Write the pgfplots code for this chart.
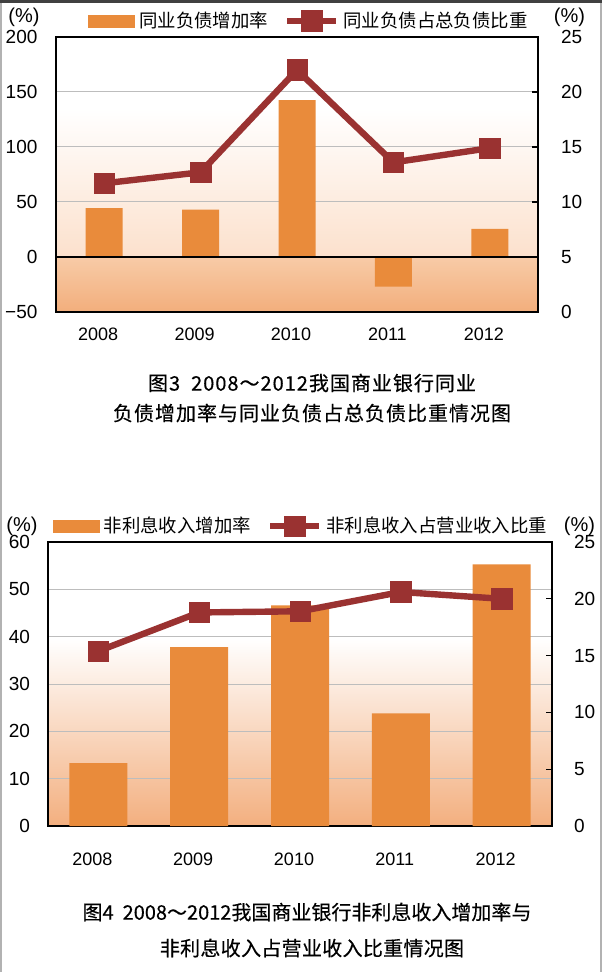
\documentclass[border=0pt]{standalone}
\usepackage{pgfplots}
\pgfplotsset{compat=1.18}
\usepackage{fontspec}
\setmainfont{Liberation Sans}
\newfontfamily\cjk{Noto Sans CJK SC}
\newfontfamily\cjkcapA{Noto Sans CJK SC}[LetterSpace=5, FakeBold=0.4]
\newfontfamily\cjkcapB{Noto Sans CJK SC}[LetterSpace=1.5, FakeBold=0.4]
\newfontfamily\cjkcapC{Noto Sans CJK SC}[LetterSpace=0, FakeBold=0.4]
\definecolor{barc}{HTML}{E98B3B}
\definecolor{linec}{HTML}{9A3231}
\definecolor{bgA}{HTML}{F2AE7C}
\definecolor{bgB}{HTML}{F8CBA7}
\definecolor{bgC}{HTML}{FCE1CD}
\definecolor{bgD}{HTML}{F3AF7F}
\definecolor{gridc}{HTML}{BDBDBD}
\pgfdeclareverticalshading{bgone}{100bp}{color(0bp)=(bgA); color(25bp)=(bgA); color(35bp)=(bgB); color(35.3bp)=(bgC); color(62bp)=(white); color(100bp)=(white)}
\pgfdeclareverticalshading{bgtwo}{100bp}{color(0bp)=(bgD); color(25bp)=(bgD); color(58bp)=(white); color(100bp)=(white)}
\pgfplotsset{
  lineplot/.style={linec, line width=3.2pt, mark=square*, mark size=5.1pt,
    mark options={line width=0.3pt, fill=linec, draw=linec},
    legend image code/.code={\draw[mark repeat=2,mark phase=2,##1] plot coordinates {(0pt,0pt) (12.25pt,0pt) (24.5pt,0pt)};}},
  barleg/.style={legend image code/.code={\fill[barc] (0pt,-3pt) rectangle (23pt,3pt);}},
}
\begin{document}
\begin{tikzpicture}
\useasboundingbox (0,0) rectangle (301pt,-486pt);
% frame
\draw[gray!60, line width=1pt] (0.5pt,0pt) -- (0.5pt,-486pt);
\draw[gray!60, line width=1pt] (300.5pt,0pt) -- (300.5pt,-486pt);
\draw[black!75, line width=1.5pt] (0pt,-0.75pt) -- (301pt,-0.75pt);

% ===== Chart 1 =====
\begin{axis}[
  scale only axis, at={(28pt,-156pt)}, anchor=south west, width=241pt, height=137.5pt,
  xmin=-0.5, xmax=4.5, ymin=-50, ymax=200,
  axis background/.style={shade, shading=bgone},
  xtick={0,1,2,3,4}, xticklabels={2008,2009,2010,2011,2012},
  ytick={-50,0,50,100,150,200}, yticklabels={−50,0,50,100,150,200},
  ymajorgrids, major grid style={gridc, line width=0.5pt},
  tick style={draw=none},
  axis line style={black, line width=0.6pt},
  yticklabel style={font=\fontsize{9.5}{11}\selectfont, xshift=-5.75pt},
  xticklabel style={font=\fontsize{9}{11}\selectfont, yshift=-4.25pt, xshift=-3pt},
  ylabel={(\%)}, every axis y label/.style={at={(rel axis cs:0,1)}, anchor=center, xshift=-16pt, yshift=10pt, font=\fontsize{10}{12}\selectfont},
]
\addplot[ybar, bar width=18.5pt, fill=barc, draw=none] coordinates {(0,44.5) (1,43) (2,142.5) (3,-27) (4,25.5)};
\draw[black, line width=0.6pt] (rel axis cs:0,0.2) -- (rel axis cs:1,0.2);
\end{axis}
\begin{axis}[
  scale only axis, at={(28pt,-156pt)}, anchor=south west, width=241pt, height=137.5pt,
  xmin=-0.5, xmax=4.5, ymin=0, ymax=25,
  axis x line=none, axis y line*=right,
  ytick={0,5,10,15,20,25}, yticklabels={0,5,10,15,20,25},
  tick align=inside, major tick length=3pt, ytick style={black, line width=0.6pt},
  axis line style={-, black, line width=0.6pt},
  yticklabel style={font=\fontsize{9.5}{11}\selectfont, xshift=8pt},
  ylabel={(\%)}, every axis y label/.style={at={(rel axis cs:1,1)}, anchor=center, xshift=15.75pt, yshift=10pt, font=\fontsize{10}{12}\selectfont},
  legend style={at={(0.5,1)}, anchor=center, xshift=6.5pt, yshift=8pt, draw=none, fill=none,
    font=\cjk\fontsize{9.2}{11}\selectfont, /tikz/every even column/.append style={column sep=6pt}},
  legend columns=2, legend cell align=left,
  clip=false,
]
\addlegendimage{barleg}
\addlegendentry{同业负债增加率}
\addplot[lineplot] coordinates {(0,11.7) (1,12.7) (2,22.0) (3,13.6) (4,14.9)};
\addlegendentry{同业负债占总负债比重}
\end{axis}
\node[font=\cjkcapA\fontsize{10}{12}\selectfont] at (156pt,-191.5pt) {图3\ \ 2008～2012我国商业银行同业};
\node[font=\cjkcapA\fontsize{10}{12}\selectfont] at (156pt,-206.5pt) {负债增加率与同业负债占总负债比重情况图};

% ===== Chart 2 =====
\begin{axis}[
  scale only axis, at={(24pt,-413pt)}, anchor=south west, width=252pt, height=142pt,
  xmin=-0.5, xmax=4.5, ymin=0, ymax=60,
  axis background/.style={shade, shading=bgtwo},
  xtick={0,1,2,3,4}, xticklabels={2008,2009,2010,2011,2012},
  ytick={0,10,20,30,40,50,60}, yticklabels={0,10,20,30,40,50,60},
  ymajorgrids, major grid style={gridc, line width=0.5pt},
  tick style={draw=none},
  axis line style={black, line width=0.6pt},
  yticklabel style={font=\fontsize{9.5}{11}\selectfont, xshift=-5.5pt},
  xticklabel style={font=\fontsize{9}{11}\selectfont, yshift=-9.75pt, xshift=-3pt},
  ylabel={(\%)}, every axis y label/.style={at={(rel axis cs:0,1)}, anchor=center, xshift=-13pt, yshift=8pt, font=\fontsize{10}{12}\selectfont},
]
\addplot[ybar, bar width=29pt, fill=barc, draw=none] coordinates {(0,13.3) (1,37.8) (2,46.6) (3,23.8) (4,55.3)};
\end{axis}
\begin{axis}[
  scale only axis, at={(24pt,-413pt)}, anchor=south west, width=252pt, height=142pt,
  xmin=-0.5, xmax=4.5, ymin=0, ymax=25,
  axis x line=none, axis y line*=right,
  ytick={0,5,10,15,20,25}, yticklabels={0,5,10,15,20,25},
  tick align=inside, major tick length=3pt, ytick style={black, line width=0.6pt},
  axis line style={-, black, line width=0.6pt},
  yticklabel style={font=\fontsize{9.5}{11}\selectfont, xshift=7.5pt},
  ylabel={(\%)}, every axis y label/.style={at={(rel axis cs:1,1)}, anchor=center, xshift=13.75pt, yshift=8pt, font=\fontsize{10}{12}\selectfont},
  legend style={at={(0.5,1)}, anchor=center, xshift=1pt, yshift=8pt, draw=none, fill=none,
    font=\cjk\fontsize{9.2}{11}\selectfont, /tikz/every even column/.append style={column sep=6pt}},
  legend columns=2, legend cell align=left,
  clip=false,
]
\addlegendimage{barleg}
\addlegendentry{非利息收入增加率}
\addplot[lineplot] coordinates {(0,15.4) (1,18.8) (2,18.9) (3,20.6) (4,20.0)};
\addlegendentry{非利息收入占营业收入比重}
\end{axis}
\node[font=\cjkcapC\fontsize{10}{12}\selectfont] at (153.5pt,-456pt) {图4\ \ 2008～2012我国商业银行非利息收入增加率与};
\node[font=\cjkcapB\fontsize{10}{12}\selectfont] at (156pt,-474pt) {非利息收入占营业收入比重情况图};
\end{tikzpicture}
\end{document}
